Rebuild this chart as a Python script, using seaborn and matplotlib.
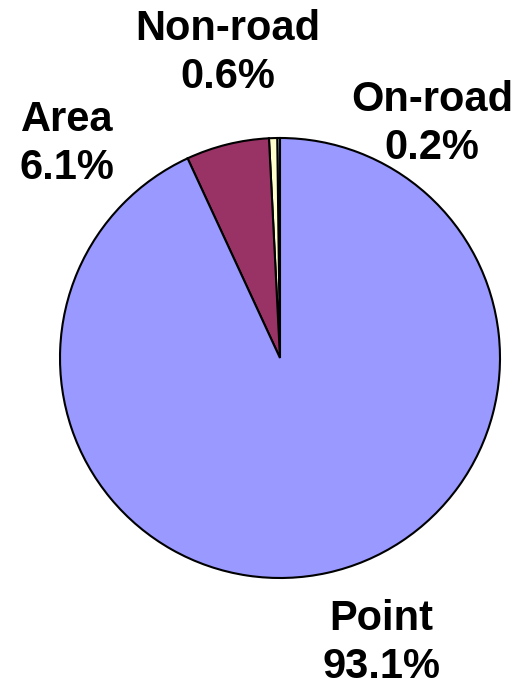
import numpy as np
import seaborn as sns
import matplotlib.pyplot as plt

# sources, counterclockwise from 12 o'clock
sources = ["On-road", "Non-road", "Area", "Point"]
shares = [0.2, 0.6, 6.1, 93.1]
colors = ["#CCFFFF", "#FFFFCC", "#993366", "#9999FF"]

# label anchor points (pixel centers)
label_px = [(432, 124), (228, 53), (67, 144), (381, 643)]

sns.set_theme(style="white")
plt.rcParams["font.family"] = ["Liberation Sans", "DejaVu Sans"]

W, H = 524, 688
fig = plt.figure(figsize=(W / 100, H / 100), dpi=100)
cx, cy, r = 280, 358, 220
ax = fig.add_axes([(cx - r) / W, (H - cy - r) / H, 2 * r / W, 2 * r / H])

ax.pie(shares, colors=colors, startangle=90, counterclock=True,
       wedgeprops={"edgecolor": "black", "linewidth": 1.5})
ax.set_xlim(-1, 1)
ax.set_ylim(-1, 1)
ax.axis("off")

for name, val, (px, py) in zip(sources, shares, label_px):
    fig.text(px / W, 1 - py / H, f"{name}\n{val:.1f}%", ha="center", va="center",
             fontsize=30, fontweight="bold", linespacing=1.25, color="black")

fig.savefig("out.png", dpi=100)
